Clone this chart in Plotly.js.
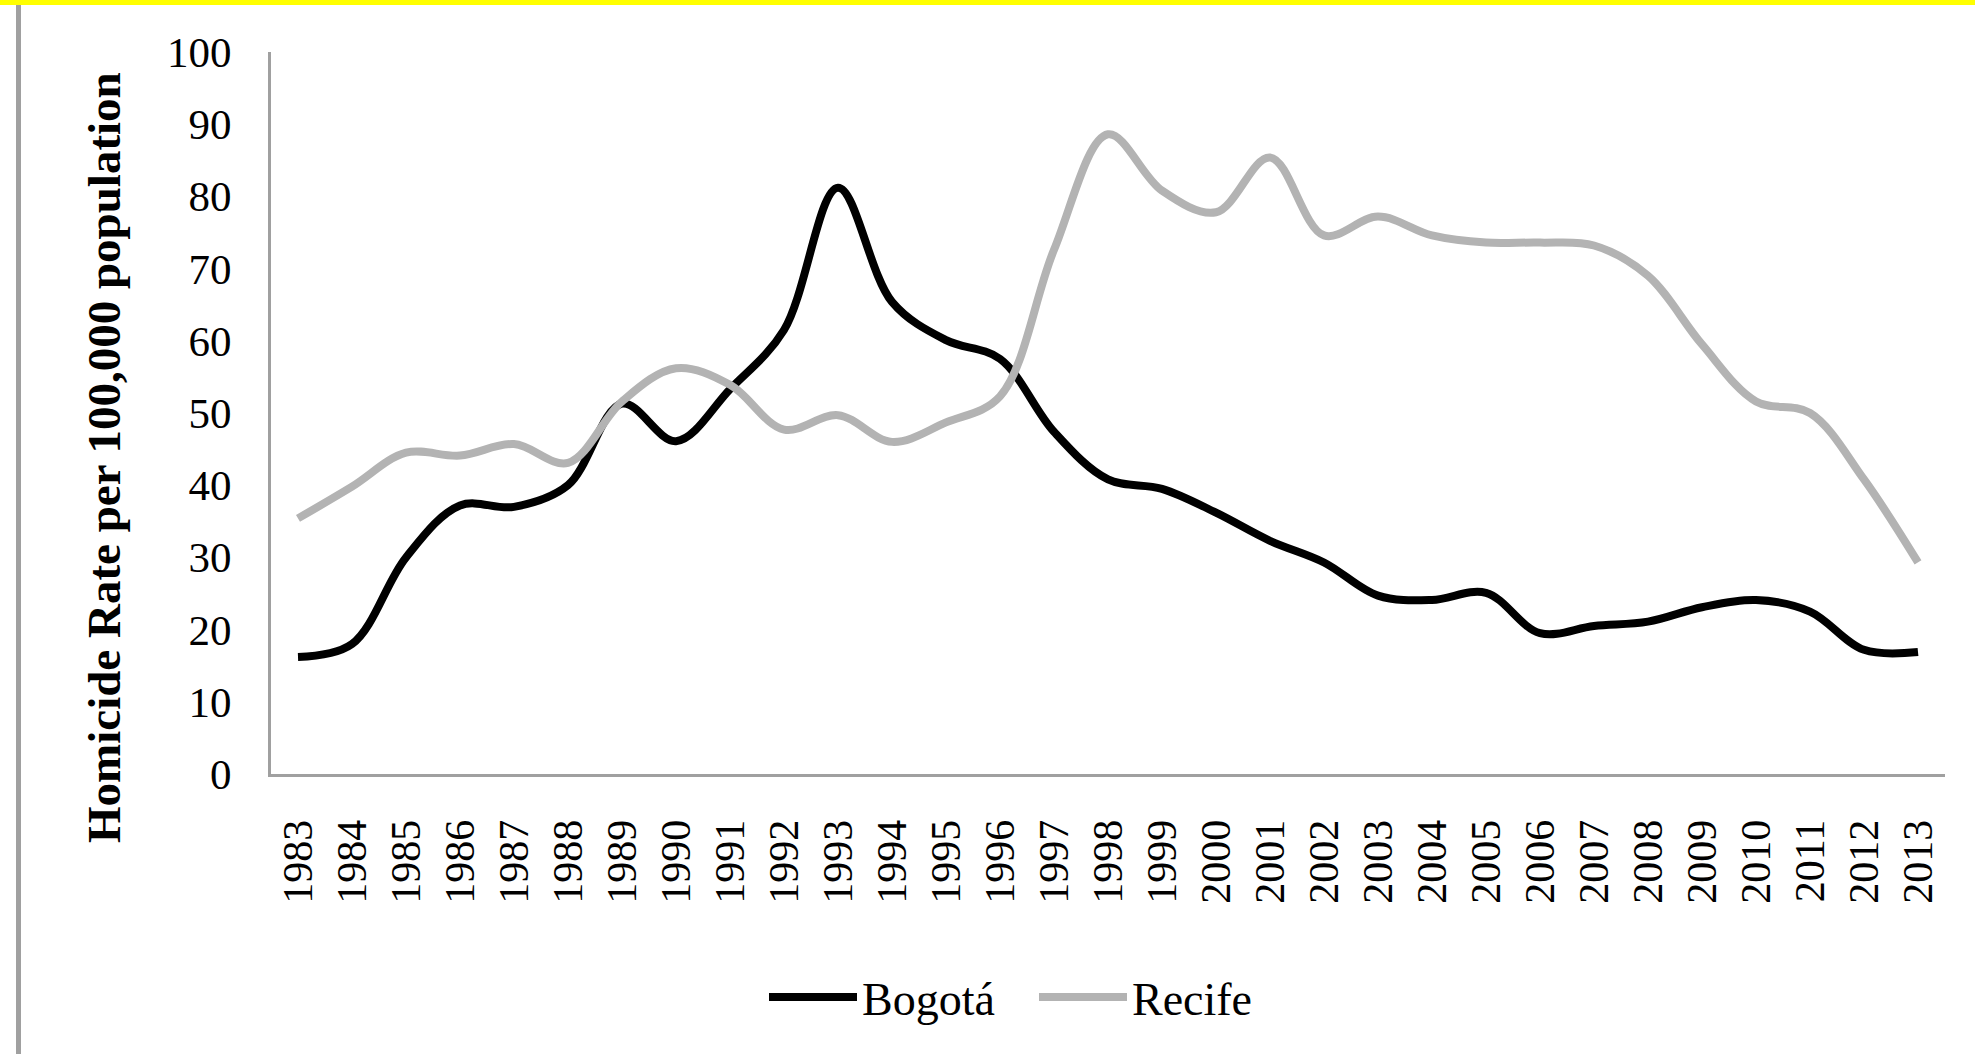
<!DOCTYPE html>
<html>
<head>
<meta charset="utf-8">
<script src="https://cdn.plot.ly/plotly-3.0.1.min.js"></script>
<style>html,body{margin:0;padding:0;background:#fff;}#chart{width:1975px;height:1054px;}</style>
</head>
<body>
<div id="chart"></div>
<script>
const years = ["1983","1984","1985","1986","1987","1988","1989","1990","1991","1992","1993","1994","1995","1996","1997","1998","1999","2000","2001","2002","2003","2004","2005","2006","2007","2008","2009","2010","2011","2012","2013"];
const bogota = [16.2, 18.0, 30.0, 37.2, 37.0, 40.0, 51.3, 46.1, 53.3, 61.5, 81.2, 65.4, 60.1, 57.5, 47.4, 40.8, 39.5, 36.2, 32.3, 29.3, 24.7, 24.1, 25.1, 19.5, 20.5, 21.1, 23.1, 24.1, 22.5, 17.2, 16.9];
const recife = [35.4, 39.8, 44.5, 44.1, 45.7, 43.1, 51.6, 56.2, 53.9, 47.7, 49.7, 46.0, 48.7, 52.3, 72.6, 88.6, 80.8, 77.8, 85.4, 74.6, 77.2, 74.6, 73.6, 73.6, 73.2, 69.0, 59.5, 51.6, 50.0, 40.8, 29.3];
const yTitle = "Homicide Rate per 100,000 population";

const W = 1975, H = 1054;
const M = {l: 271, r: 30, t: 52, b: 280};
const PW = W - M.l - M.r, PH = H - M.t - M.b;
const px = x => (x - M.l) / PW;
const py = y => (H - M.b - y) / PH;

const serif = "Liberation Serif, Times New Roman, serif";

const traces = [
  {x: years, y: bogota, name: "Bogotá", type: "scatter", mode: "lines",
   line: {color: "#000000", width: 8, shape: "spline", smoothing: 1}},
  {x: years, y: recife, name: "Recife", type: "scatter", mode: "lines",
   line: {color: "#b3b3b3", width: 8, shape: "spline", smoothing: 1}}
];

const layout = {
  width: W, height: H,
  margin: M,
  paper_bgcolor: "#ffffff", plot_bgcolor: "#ffffff",
  font: {family: serif, color: "#000000", size: 42},
  showlegend: true,
  legend: {orientation: "h", x: px(764), xanchor: "left", y: py(997), yanchor: "middle",
           itemwidth: 88,
           font: {family: serif, size: 46, color: "#000"}, entrywidth: 167, entrywidthmode: "pixels",
           bgcolor: "rgba(0,0,0,0)"},
  xaxis: {type: "category", range: [-0.5, 30.5], showgrid: false, zeroline: false,
          showline: true, linecolor: "#a0a0a0", linewidth: 3, ticks: "", tickangle: -90,
          ticklabelstandoff: 26, tickfont: {family: serif, size: 42, color: "#000"}, fixedrange: true},
  yaxis: {range: [0, 100], dtick: 10, tick0: 0, showgrid: false, zeroline: false,
          showline: true, linecolor: "#a0a0a0", linewidth: 3, ticks: "",
          ticklabelstandoff: 28, tickfont: {family: serif, size: 43, color: "#000"}, fixedrange: true},
  annotations: [
    {text: "<b>" + yTitle + "</b>", xref: "paper", yref: "paper", x: px(104), y: py(458),
     xanchor: "center", yanchor: "middle", textangle: -90, showarrow: false,
     font: {family: serif, size: 47, color: "#000"}}
  ],
  shapes: [
    {type: "rect", xref: "paper", yref: "paper", x0: px(0), x1: px(W), y0: py(5), y1: py(0),
     fillcolor: "#ffff00", line: {width: 0}, layer: "above"},
    {type: "line", xref: "paper", yref: "paper", x0: px(18.5), x1: px(18.5), y0: py(5), y1: py(H),
     line: {color: "#a0a0a0", width: 5}}
  ]
};

Plotly.newPlot("chart", traces, layout, {displayModeBar: false, staticPlot: true});
</script>
</body>
</html>
